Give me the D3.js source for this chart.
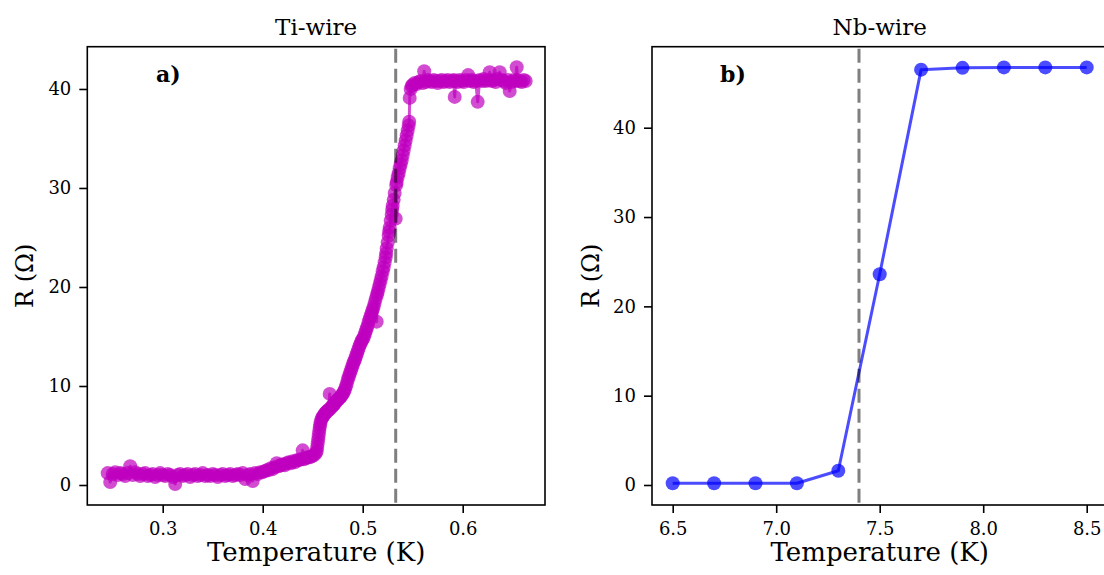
<!DOCTYPE html>
<html>
<head>
<meta charset="utf-8">
<script src="https://cdn.jsdelivr.net/npm/d3@7"></script>
<style>
  body { margin: 0; background: #fff; }
  svg text { font-family: "DejaVu Serif", serif; fill: #000; }
</style>
</head>
<body>
<svg id="chart" width="1104" height="575"></svg>
<script>
// Ti-wire: temperature sweep (K) and measured resistance (ohm)
const tiTemp = [
  // superconducting plateau
  0.2450,0.2475,0.2500,0.2525,0.2550,0.2575,0.2600,0.2625,0.2650,0.2675,
  0.2700,0.2725,0.2750,0.2775,0.2800,0.2825,0.2850,0.2875,0.2900,0.2925,
  0.2950,0.2975,0.3000,0.3025,0.3050,0.3075,0.3100,0.3125,0.3150,0.3175,
  0.3200,0.3225,0.3250,0.3275,0.3300,0.3325,0.3350,0.3375,0.3400,0.3425,
  0.3450,0.3475,0.3500,0.3525,0.3550,0.3575,0.3600,0.3625,0.3650,0.3675,
  0.3700,0.3725,0.3750,0.3775,0.3800,0.3825,0.3850,0.3875,0.3900,0.3925,
  0.3950,0.3975,0.4000,
  // onset
  0.402,0.404,0.406,0.408,0.410,0.412,0.414,0.416,0.418,0.420,
  0.422,0.424,0.426,0.428,0.430,0.432,0.434,0.436,0.438,0.440,
  0.441,0.443,0.445,0.447,0.449,0.451,0.453,
  // transition
  0.454,0.4545,0.455,0.4555,0.456,0.4565,0.457,0.4575,0.458,0.459,
  0.460,0.461,0.462,0.463,0.464,0.465,0.466,0.467,0.4675,0.469,
  0.470,0.471,0.472,0.473,0.474,0.475,0.476,0.477,0.478,0.479,
  0.480,0.481,0.482,0.483,0.484,0.485,0.486,0.487,0.488,0.489,
  0.490,0.491,0.492,0.493,0.494,0.495,0.496,0.497,0.498,0.499,
  0.500,0.501,0.502,0.503,0.504,0.505,0.506,0.507,0.508,0.509,
  0.510,0.511,0.512,0.513,0.514,0.5142,0.515,0.516,0.517,0.518,
  0.519,0.520,0.521,0.522,0.523,0.5235,0.524,0.525,0.526,0.5265,
  0.527,0.528,0.529,0.5295,0.530,0.531,0.532,0.533,0.5335,0.534,
  0.535,0.536,0.537,0.538,0.539,0.540,0.541,0.542,0.543,0.544,
  0.545,0.546,0.5465,0.547,0.548,0.549,
  // normal state
  0.550,0.552,0.554,0.556,0.558,0.560,0.5615,0.563,0.565,0.567,
  0.569,0.571,0.573,0.575,0.577,0.579,0.581,0.583,0.585,0.587,
  0.589,0.591,0.592,0.593,0.595,0.597,0.599,0.601,0.603,0.6055,
  0.607,0.609,0.611,0.613,0.615,0.617,0.619,0.621,0.623,0.625,
  0.627,0.629,0.631,0.633,0.635,0.637,0.639,0.641,0.643,0.645,
  0.647,0.649,0.651,0.653,0.654,0.655,0.657,0.659,0.661,0.663
];
const tiRes = [
  // superconducting plateau
  1.2,0.3,1.1,1.3,1.0,1.2,1.1,0.9,1.2,1.9,
  1.0,1.3,1.1,0.9,1.1,1.2,0.9,1.0,1.1,0.8,
  1.0,1.2,1.0,0.9,1.1,1.0,0.8,0.1,1.0,1.1,
  0.9,1.0,1.1,0.8,1.0,1.1,0.9,1.0,1.2,0.9,
  1.0,0.9,1.1,1.0,0.8,1.0,1.1,0.9,1.0,1.1,
  0.9,1.0,1.1,1.0,1.2,0.6,1.0,1.1,0.4,1.2,
  1.1,1.3,1.3,
  // onset
  1.4,1.5,1.5,1.7,1.6,1.8,2.2,1.9,2.0,2.1,
  2.0,2.2,2.3,2.2,2.4,2.3,2.5,2.5,2.6,3.5,
  2.6,2.7,2.8,2.8,2.9,3.0,3.2,
  // transition
  3.4,3.8,4.2,4.6,5.0,5.4,5.8,6.1,6.4,6.7,
  6.9,7.0,7.2,7.3,7.4,7.5,7.6,9.2,7.7,7.9,
  8.0,8.1,8.2,8.4,8.5,8.6,8.7,8.8,8.9,9.1,
  9.2,9.4,9.6,9.9,10.2,10.6,10.9,11.2,11.5,11.8,
  12.1,12.4,12.6,12.9,13.2,13.5,13.8,14.1,14.3,14.6,
  14.7,14.9,15.2,15.5,15.8,16.1,16.5,16.8,17.1,17.4,
  17.7,18.0,18.4,18.8,16.5,19.2,19.5,19.9,20.3,20.7,
  21.1,21.6,22.0,22.5,23.0,23.4,23.9,24.5,25.2,25.6,
  26.0,26.7,27.3,27.8,28.2,28.8,29.5,26.9,30.3,30.6,
  31.1,31.5,32.0,32.4,32.8,33.3,33.8,34.3,34.8,35.3,
  35.8,36.3,36.7,39.1,40.0,40.3,
  // normal state
  40.4,40.6,40.5,40.7,40.8,40.6,41.8,40.7,40.9,40.8,
  40.7,40.9,40.8,40.6,40.8,40.9,40.7,40.8,40.9,40.7,
  40.8,40.9,39.2,40.8,40.7,40.9,40.8,40.7,40.9,41.4,
  40.8,40.9,40.7,40.8,38.7,40.9,40.8,41.0,40.8,40.9,
  41.7,40.8,40.9,40.7,41.0,41.7,40.9,40.8,40.6,40.9,
  39.8,40.7,40.9,40.8,42.2,40.9,40.8,40.7,40.9,40.8
];

// Nb-wire: temperature (K) and resistance (ohm)
const nbTemp = [6.5, 6.7, 6.9, 7.1, 7.3, 7.5, 7.7, 7.9, 8.1, 8.3, 8.5];
const nbRes  = [0.2, 0.2, 0.2, 0.2, 1.6, 23.6, 46.5, 46.7, 46.75, 46.75, 46.75];

// Critical temperatures (dashed markers)
const tiTc = 0.533;
const nbTc = 7.4;

// Tick values
const tiTicksX = [0.3, 0.4, 0.5, 0.6];
const tiTicksY = [0, 10, 20, 30, 40];
const nbTicksX = [6.5, 7.0, 7.5, 8.0, 8.5];
const nbTicksY = [0, 10, 20, 30, 40];

const svg = d3.select("#chart");

const panels = [
  {
    title: "Ti-wire", tag: "a)", color: "#bf00bf",
    temp: tiTemp, res: tiRes, tc: tiTc,
    ticksX: tiTicksX, ticksY: tiTicksY,
    left: 87.3, right: 545, top: 46.7, bottom: 505,
    xDomain: [0.2246, 0.6823], yDomain: [-2.02, 44.27],
    tagX: 156, labelX: 25
  },
  {
    title: "Nb-wire", tag: "b)", color: "#0000ff",
    temp: nbTemp, res: nbRes, tc: nbTc,
    ticksX: nbTicksX, ticksY: nbTicksY,
    left: 652, right: 1107.4, top: 46.7, bottom: 505,
    xDomain: [6.4, 8.6], yDomain: [-2.24, 49.07],
    tagX: 720, labelX: 591
  }
];

panels.forEach(p => {
  const x = d3.scaleLinear().domain(p.xDomain).range([p.left, p.right]);
  const y = d3.scaleLinear().domain(p.yDomain).range([p.bottom, p.top]);
  const data = p.temp.map((t, i) => ({ t, r: p.res[i] }));
  const g = svg.append("g");

  // connecting line
  g.append("path")
    .datum(data)
    .attr("fill", "none")
    .attr("stroke", p.color)
    .attr("stroke-opacity", 0.7)
    .attr("stroke-width", 3)
    .attr("stroke-linejoin", "round")
    .attr("d", d3.line().x(d => x(d.t)).y(d => y(d.r)));

  // markers
  g.append("g").selectAll("circle")
    .data(data)
    .join("circle")
    .attr("cx", d => x(d.t))
    .attr("cy", d => y(d.r))
    .attr("r", 7)
    .attr("fill", p.color)
    .attr("fill-opacity", 0.7);

  // critical temperature marker
  g.append("line")
    .attr("x1", x(p.tc)).attr("x2", x(p.tc))
    .attr("y1", p.top + 2).attr("y2", p.bottom)
    .attr("stroke", "#000")
    .attr("stroke-opacity", 0.5)
    .attr("stroke-width", 3)
    .attr("stroke-dasharray", "14,6");

  // axes
  const xAxis = d3.axisBottom(x).tickValues(p.ticksX)
    .tickFormat(d3.format(".1f")).tickSize(8).tickPadding(9);
  const yAxis = d3.axisLeft(y).tickValues(p.ticksY)
    .tickFormat(d3.format("d")).tickSize(8).tickPadding(8);

  const gx = g.append("g").attr("transform", `translate(0,${p.bottom})`).call(xAxis);
  const gy = g.append("g").attr("transform", `translate(${p.left},0)`).call(yAxis);
  [gx, gy].forEach(a => {
    a.select(".domain").remove();
    a.selectAll(".tick line").attr("stroke", "#000").attr("stroke-width", 1.6);
    a.selectAll(".tick text").attr("font-family", "DejaVu Serif").attr("font-size", 18).attr("fill", "#000");
  });

  // frame
  g.append("rect")
    .attr("x", p.left).attr("y", p.top)
    .attr("width", p.right - p.left).attr("height", p.bottom - p.top)
    .attr("fill", "none").attr("stroke", "#000").attr("stroke-width", 1.6);

  const cx = (p.left + p.right) / 2;
  const cy = (p.top + p.bottom) / 2;

  g.append("text").attr("x", cx).attr("y", 35)
    .attr("text-anchor", "middle").attr("font-size", 23).text(p.title);

  g.append("text").attr("x", p.tagX).attr("y", 82)
    .attr("font-size", 22).attr("font-weight", "bold").text(p.tag);

  g.append("text").attr("x", cx).attr("y", 561)
    .attr("text-anchor", "middle").attr("font-size", 26).text("Temperature (K)");

  g.append("text")
    .attr("transform", `translate(${p.labelX + 8},${cy}) rotate(-90)`)
    .attr("text-anchor", "middle").attr("font-size", 24).text("R (\u03A9)");
});
</script>
</body>
</html>
